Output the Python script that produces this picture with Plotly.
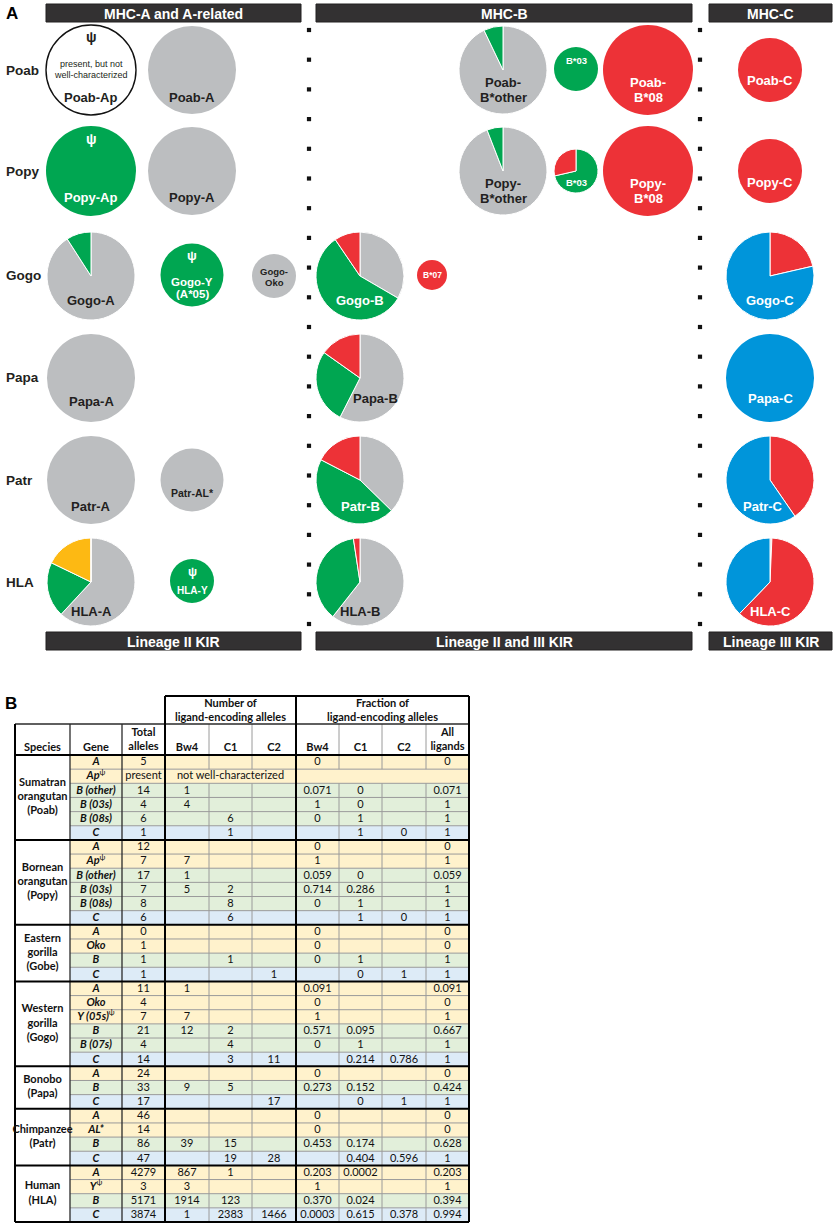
import numpy as np
import plotly.graph_objects as go

W, H = 835, 1226
FA = "Liberation Sans"
FT = "Lato"
DARK = "#231F20"
WHITE = "#FFFFFF"

# ---------------- Panel A data ----------------
pie_names = ["Poab-Ap", "Poab-A", "Poab-B*other", "Poab-B*03", "Poab-B*08", "Poab-C",
             "Popy-Ap", "Popy-A", "Popy-B*other", "Popy-B*03", "Popy-B*08", "Popy-C",
             "Gogo-A", "Gogo-Y", "Gogo-Oko", "Gogo-B", "Gogo-B*07", "Gogo-C",
             "Papa-A", "Papa-B", "Papa-C",
             "Patr-A", "Patr-AL*", "Patr-B", "Patr-C",
             "HLA-A", "HLA-Y", "HLA-B", "HLA-C"]
pie_c2 = [0, 0, 0, 0, 0, 0,
          0, 0, 0, 0, 0, 0,
          0, 0, 0, 0, 0, 0.786,
          0, 0, 1,
          0, 0, 0, 0.596,
          0, 0, 0, 0.378]
pie_c1 = [0, 0, 0, 0, 1, 1,
          0, 0, 0, 0.286, 1, 1,
          0, 0, 0, 0.095, 1, 0.214,
          0, 0.152, 0,
          0, 0, 0.174, 0.404,
          0.0002, 0, 0.024, 0.615]
pie_a3 = [0, 0, 0, 0, 0, 0,
          0, 0, 0, 0, 0, 0,
          0, 0, 0, 0, 0, 0,
          0, 0, 0,
          0, 0, 0, 0,
          0.178, 0, 0, 0]
pie_bw4 = [0, 0, 0.071, 1, 0, 0,
           1, 0, 0.059, 0.714, 0, 0,
           0.091, 1, 0, 0.571, 0, 0,
           0, 0.273, 0,
           0, 0, 0.453, 0,
           0.203, 1, 0.370, 0.0003]
pie_uncharacterized = [1] + [0] * 28

# layout of the pies (pixel centres / radii)
pie_cx = [91, 192, 503, 576, 648, 770,
          91, 192, 503, 576, 648, 770,
          91, 192, 274, 360, 432, 770,
          91, 360, 770,
          91, 192, 360, 770,
          91, 192, 360, 770]
pie_cy = [70, 70, 70, 69, 70, 70,
          171, 171, 171, 171, 171, 171,
          276, 275, 276, 276, 275, 276,
          378, 378, 378,
          480, 480, 480, 480,
          582, 581, 582, 582]
pie_r = [45, 44, 44, 22, 45, 32,
         45, 44, 44, 22, 45, 32,
         44, 31.5, 22, 44, 15, 44,
         44, 44, 44,
         44, 31.5, 44, 44,
         44, 22, 44, 44]

row_labels = ["Poab", "Popy", "Gogo", "Papa", "Patr", "HLA"]
row_label_y = [70, 171, 275, 377, 480, 582]

top_headers = ["MHC-A and A-related", "MHC-B", "MHC-C"]
bottom_headers = ["Lineage II KIR", "Lineage II and III KIR", "Lineage III KIR"]
header_x = [(46, 301), (316, 692), (709, 832)]

# text on pies: (text, x, y, size, color, bold)
pie_texts = [
    ("ψ", 91, 37, 14, DARK, True),
    ("present, but not", 91, 64, 9, DARK, False),
    ("well-characterized", 91, 75, 9, DARK, False),
    ("Poab-Ap", 91, 97, 13, DARK, True),
    ("Poab-A", 192, 97, 13, DARK, True),
    ("Poab-", 503, 82, 13, DARK, True), ("B*other", 503, 97, 13, DARK, True),
    ("B*03", 576, 60, 9.5, WHITE, True),
    ("Poab-", 648, 82, 13, WHITE, True), ("B*08", 648, 97, 13, WHITE, True),
    ("Poab-C", 770, 80, 13, WHITE, True),
    ("ψ", 91, 139, 14, WHITE, True),
    ("Popy-Ap", 91, 197, 13, WHITE, True),
    ("Popy-A", 192, 197, 13, DARK, True),
    ("Popy-", 503, 183, 13, DARK, True), ("B*other", 503, 198, 13, DARK, True),
    ("B*03", 576, 182, 9.5, WHITE, True),
    ("Popy-", 648, 183, 13, WHITE, True), ("B*08", 648, 198, 13, WHITE, True),
    ("Popy-C", 770, 182, 13, WHITE, True),
    ("Gogo-A", 91, 300, 13, DARK, True),
    ("ψ", 192, 255, 13, WHITE, True),
    ("Gogo-Y", 192, 282, 11.5, WHITE, True), ("(A*05)", 192, 294, 11.5, WHITE, True),
    ("Gogo-", 274, 271, 9.5, DARK, True), ("Oko", 274, 282, 9.5, DARK, True),
    ("Gogo-B", 360, 300, 13, WHITE, True),
    ("B*07", 432, 275, 8.5, WHITE, True),
    ("Gogo-C", 770, 300, 13, WHITE, True),
    ("Papa-A", 91, 401, 13, DARK, True),
    ("Papa-B", 375, 398, 13, DARK, True),
    ("Papa-C", 770, 398, 13, WHITE, True),
    ("Patr-A", 91, 506, 13, DARK, True),
    ("Patr-AL*", 192, 493, 10.5, DARK, True),
    ("Patr-B", 360, 506, 13, WHITE, True),
    ("Patr-C", 763, 506, 13, WHITE, True),
    ("ψ", 192, 572, 12, WHITE, True),
    ("HLA-Y", 192, 590, 10, WHITE, True),
    ("HLA-A", 91, 611, 13, DARK, True),
    ("HLA-B", 360, 611, 13, DARK, True),
    ("HLA-C", 770, 611, 13, WHITE, True),
]

COL = {"C2": "#0095DA", "C1": "#ED3237", "A3/A11": "#FDB913",
       "Bw4": "#00A651", "none": "#BCBEC0"}

# ---------------- Panel B data ----------------
species_names = ["Sumatran<br>orangutan<br>(Poab)", "Bornean<br>orangutan<br>(Popy)",
                 "Eastern<br>gorilla<br>(Gobe)", "Western<br>gorilla<br>(Gogo)",
                 "Bonobo<br>(Papa)", "Chimpanzee<br>(Patr)", "Human<br>(HLA)"]
species_nrows = [6, 6, 4, 6, 3, 4, 4]
genes = ["A", "Ap^", "B (other)", "B (03s)", "B (08s)", "C",
         "A", "Ap^", "B (other)", "B (03s)", "B (08s)", "C",
         "A", "Oko", "B", "C",
         "A", "Oko", "Y (05s)^", "B", "B (07s)", "C",
         "A", "B", "C",
         "A", "AL*", "B", "C",
         "A", "Y^", "B", "C"]
gene_kind = ["A", "A", "B", "B", "B", "C",
             "A", "A", "B", "B", "B", "C",
             "A", "A", "B", "C",
             "A", "A", "A", "B", "B", "C",
             "A", "B", "C",
             "A", "A", "B", "C",
             "A", "A", "B", "C"]
total_alleles = ["5", "present", "14", "4", "6", "1",
                 "12", "7", "17", "7", "8", "6",
                 "0", "1", "1", "1",
                 "11", "4", "7", "21", "4", "14",
                 "24", "33", "17",
                 "46", "14", "86", "47",
                 "4279", "3", "5171", "3874"]
n_bw4 = ["", "", "1", "4", "", "",
         "", "7", "1", "5", "", "",
         "", "", "", "",
         "1", "", "7", "12", "", "",
         "", "9", "",
         "", "", "39", "",
         "867", "3", "1914", "1"]
n_c1 = ["", "", "", "", "6", "1",
        "", "", "", "2", "8", "6",
        "", "", "1", "",
        "", "", "", "2", "4", "3",
        "", "5", "",
        "", "", "15", "19",
        "1", "", "123", "2383"]
n_c2 = ["", "", "", "", "", "",
        "", "", "", "", "", "",
        "", "", "", "1",
        "", "", "", "", "", "11",
        "", "", "17",
        "", "", "", "28",
        "", "", "", "1466"]
f_bw4 = ["0", "", "0.071", "1", "0", "",
         "0", "1", "0.059", "0.714", "0", "",
         "0", "0", "0", "",
         "0.091", "0", "1", "0.571", "0", "",
         "0", "0.273", "",
         "0", "0", "0.453", "",
         "0.203", "1", "0.370", "0.0003"]
f_c1 = ["", "", "0", "0", "1", "1",
        "", "", "0", "0.286", "1", "1",
        "", "", "1", "0",
        "", "", "", "0.095", "1", "0.214",
        "", "0.152", "0",
        "", "", "0.174", "0.404",
        "0.0002", "", "0.024", "0.615"]
f_c2 = ["", "", "", "", "", "0",
        "", "", "", "", "", "0",
        "", "", "", "1",
        "", "", "", "", "", "0.786",
        "", "", "1",
        "", "", "", "0.596",
        "", "", "", "0.378"]
f_all = ["0", "", "0.071", "1", "1", "1",
         "0", "1", "0.059", "1", "1", "1",
         "0", "0", "1", "1",
         "0.091", "0", "1", "0.667", "1", "1",
         "0", "0.424", "1",
         "0", "0", "0.628", "1",
         "0.203", "1", "0.394", "0.994"]
merged_row_text = "not well-characterized"
merged_row_index = 1

# table geometry (pixels)
col_edges = [15, 70, 122, 165, 209, 252, 296, 339, 382, 426, 469]
y_top, y_hdr, y_data, y_bot = 696, 724, 755, 1222
ROW_FILL = {"A": "#FFF2CC", "B": "#E2EFDA", "C": "#DDEBF7"}

fig = go.Figure()

# ---------------- Panel A ----------------
# slices run clockwise from 12 o'clock in this order
cats = ["none", "Bw4", "A3/A11", "C1", "C2"]
for i, name in enumerate(pie_names):
    x0 = (pie_cx[i] - pie_r[i]) / W
    x1 = (pie_cx[i] + pie_r[i]) / W
    y0 = 1 - (pie_cy[i] + pie_r[i]) / H
    y1 = 1 - (pie_cy[i] - pie_r[i]) / H
    if pie_uncharacterized[i]:
        labels, values, colors = ["not characterized"], [1], ["#FFFFFF"]
        line = dict(color="#111111", width=1.4)
    else:
        known = pie_c2[i] + pie_c1[i] + pie_a3[i] + pie_bw4[i]
        vals = {"none": max(0.0, 1 - known), "Bw4": pie_bw4[i], "A3/A11": pie_a3[i],
                "C1": pie_c1[i], "C2": pie_c2[i]}
        labels, values, colors = [], [], []
        for c in cats:
            if vals[c] > 0:
                labels.append(c)
                values.append(vals[c])
                colors.append(COL[c])
        line = dict(color="#FFFFFF", width=1 if len(values) > 1 else 0)
    fig.add_trace(go.Pie(labels=labels, values=values, sort=False,
                         direction="clockwise", rotation=0,
                         marker=dict(colors=colors, line=line),
                         textinfo="none", hoverinfo="label+percent",
                         showlegend=False, name=name,
                         domain=dict(x=[x0, x1], y=[y0, y1])))

annotations = []
shapes = []


def ann(text, x, y, size, color, family=FA, xanchor="center"):
    annotations.append(dict(text=text, x=x, y=y, xref="x", yref="y",
                            showarrow=False, xanchor=xanchor, yanchor="middle",
                            font=dict(family=family, size=size, color=color)))


for t, x, y, s, c, b in pie_texts:
    ann(f"<b>{t}</b>" if b else t, x, y, s, c)

for lab, y in zip(row_labels, row_label_y):
    ann(f"<b>{lab}</b>", 4, y, 13.5, DARK, xanchor="left")

ann("<b>A</b>", 12, 13, 17, "#000000")
ann("<b>B</b>", 11, 703, 17, "#000000")

for (xa, xb), t1, t2 in zip(header_x, top_headers, bottom_headers):
    for (ya, yb), t in (((4, 22), t1), ((632, 650), t2)):
        shapes.append(dict(type="rect", xref="x", yref="y", x0=xa, x1=xb, y0=ya, y1=yb,
                           fillcolor="#333132", line=dict(color="#222021", width=1)))
        ann(f"<b>{t}</b>", (xa + xb) / 2, (ya + yb) / 2 + 0.5, 14, WHITE)

# dotted separators
dot_y = np.linspace(30, 624, 21)
for dx in (309, 700):
    fig.add_trace(go.Scatter(x=[dx] * len(dot_y), y=dot_y, mode="markers",
                             marker=dict(symbol="square", size=4.2, color="#111111"),
                             hoverinfo="skip", showlegend=False))

# ---------------- Panel B ----------------
nrows = len(genes)
rh = (y_bot - y_data) / nrows
row_top = [y_data + k * rh for k in range(nrows)]
ccx = [(col_edges[k] + col_edges[k + 1]) / 2 for k in range(len(col_edges) - 1)]

# row fills
for k in range(nrows):
    shapes.append(dict(type="rect", xref="x", yref="y", layer="below",
                       x0=col_edges[1], x1=col_edges[-1], y0=row_top[k], y1=row_top[k] + rh,
                       fillcolor=ROW_FILL[gene_kind[k]], line=dict(width=0)))

# lines
gx, gy, dkx, dky, bx, by = [], [], [], [], [], []


def seg(lx, ly, x0, y0, x1, y1):
    lx += [x0, x1, None]
    ly += [y0, y1, None]


group_bounds = list(np.cumsum([0] + species_nrows))
for k in range(1, nrows):
    if k not in group_bounds:
        seg(gx, gy, col_edges[1], row_top[k], col_edges[-1], row_top[k])
m_top = row_top[merged_row_index]
m_bot = m_top + rh
for xe in (col_edges[4], col_edges[5], col_edges[7], col_edges[8], col_edges[9]):
    seg(gx, gy, xe, y_hdr, xe, m_top)
    seg(gx, gy, xe, m_bot, xe, y_bot)
for xe in (col_edges[1], col_edges[2]):
    seg(dkx, dky, xe, y_hdr, xe, y_bot)
seg(dkx, dky, col_edges[0], y_hdr, col_edges[-1], y_hdr)
seg(bx, by, col_edges[3], y_top, col_edges[-1], y_top)
seg(bx, by, col_edges[0], y_data, col_edges[-1], y_data)
for gb in group_bounds[1:]:
    yy = y_data + gb * rh
    seg(bx, by, col_edges[0], yy, col_edges[-1], yy)
seg(bx, by, col_edges[0], y_hdr, col_edges[0], y_bot)
for xe in (col_edges[3], col_edges[6], col_edges[10]):
    seg(bx, by, xe, y_top, xe, y_bot)

for lx, ly, c, w in ((gx, gy, "#9A9A9A", 1), (dkx, dky, "#2A2A2A", 1.3), (bx, by, "#000000", 2)):
    fig.add_trace(go.Scatter(x=lx, y=ly, mode="lines", line=dict(color=c, width=w),
                             hoverinfo="skip", showlegend=False, connectgaps=False))

# text
tx, ty, tt = [], [], []


def cell(text, x, y):
    if text != "":
        tx.append(x)
        ty.append(y)
        tt.append(text)


# headers
cell("<b>Number of<br>ligand-encoding alleles</b>", (col_edges[3] + col_edges[6]) / 2, 711)
cell("<b>Fraction of<br>ligand-encoding alleles</b>", (col_edges[6] + col_edges[10]) / 2, 711)
hdr_mid = 748
cell("<b>Species</b>", ccx[0], hdr_mid)
cell("<b>Gene</b>", ccx[1], hdr_mid)
cell("<b>Total<br>alleles</b>", ccx[2], 740.5)
for k, h in zip(range(3, 9), ["Bw4", "C1", "C2", "Bw4", "C1", "C2"]):
    cell(f"<b>{h}</b>", ccx[k], hdr_mid)
cell("<b>All<br>ligands</b>", ccx[9], 740.5)

# species
for s, gb0, gb1 in zip(species_names, group_bounds[:-1], group_bounds[1:]):
    cell(f"<b>{s}</b>", ccx[0], y_data + (gb0 + gb1) / 2 * rh)

for k in range(nrows):
    yc = row_top[k] + rh / 2 + 0.5
    g = genes[k]
    if g.endswith("^"):
        gtxt = f"<b><i>{g[:-1]}</i></b><sup>ψ</sup>"
    else:
        gtxt = f"<b><i>{g}</i></b>"
    cell(gtxt, ccx[1], yc)
    cell(total_alleles[k], ccx[2], yc)
    if k == merged_row_index:
        cell(merged_row_text, (col_edges[3] + col_edges[6]) / 2, yc)
    for col, arr in zip(range(3, 10), [n_bw4, n_c1, n_c2, f_bw4, f_c1, f_c2, f_all]):
        cell(arr[k], ccx[col], yc)

fig.add_trace(go.Scatter(x=tx, y=ty, text=tt, mode="text", textposition="middle center",
                         textfont=dict(family=FT, size=11, color="#111111"),
                         hoverinfo="skip", showlegend=False))

fig.update_layout(
    width=W, height=H, margin=dict(l=0, r=0, t=0, b=0),
    paper_bgcolor="white", plot_bgcolor="white",
    xaxis=dict(range=[0, W], visible=False, fixedrange=True, domain=[0, 1]),
    yaxis=dict(range=[H, 0], visible=False, fixedrange=True, domain=[0, 1]),
    shapes=shapes, annotations=annotations, showlegend=False,
)

fig.write_html("out.html", config={"displayModeBar": False},
               post_script="document.body.style.margin='0px';document.body.style.overflow='hidden';")
